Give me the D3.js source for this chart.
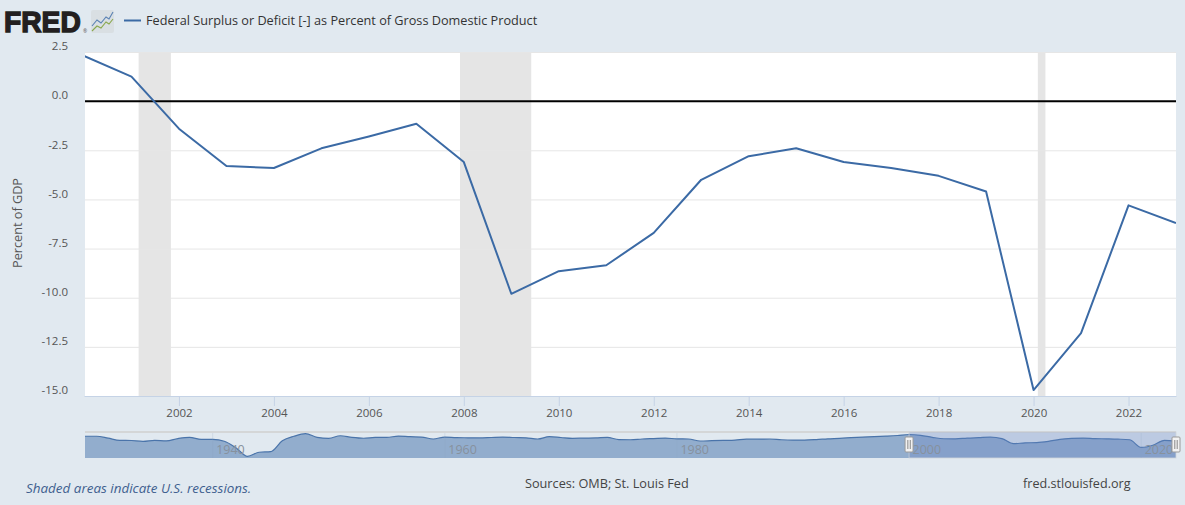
<!DOCTYPE html>
<html>
<head>
<meta charset="utf-8">
<script src="https://d3js.org/d3.v7.min.js"></script>
<style>
  html, body { margin: 0; padding: 0; background: #e1e9f0; overflow: hidden; }
  text { font-family: "Open Sans", sans-serif; }
</style>
</head>
<body>
<script>
// values
const years = d3.range(2000, 2024);
const deficit = [2.3, 1.25, -1.4, -3.3, -3.4, -2.4, -1.8, -1.15, -3.1, -9.8, -8.65, -8.35,
  -6.7, -4.0, -2.8, -2.4, -3.1, -3.4, -3.8, -4.6, -14.7, -11.8, -5.3, -6.2];

const recessionStart = [2001.15, 2007.92, 2020.09];
const recessionEnd = [2001.83, 2009.42, 2020.25];

const yTicks = [2.5, 0, -2.5, -5, -7.5, -10, -12.5, -15];
const xTicks = d3.range(2002, 2024, 2);
const navTicks = [1940, 1960, 1980, 2000, 2020];

// navigator history up to 1999, the rest comes from deficit
const navYears = d3.range(1929, 2000);
const navHistory = [0, 0, -2.5, -5.3, -5.6, -6.6, -5.3, -6, -3, -1.4, -4, -4.2, -6.5, -15, -26.4, -21, -20.3, -6,
  0, 3.4, -1.4, -2.7, 0.7, -1.5, -2.6, -1.5, -1.5, 0.3, -0.6, -1, -3.6, -1, -1.8, -2, -2.2, -1.6, -1, -1.6, -2, -3.6,
  -0.5, -1.6, -2.7, -2.4, -2.2, -1.5, -4.4, -4.6, -3.6, -3, -2.4, -3.4, -3.6, -6.2, -5.8, -5.4, -5, -3.8, -3.8, -3.6,
  -4.6, -5, -5, -4.4, -3.4, -2.7, -1.8, -1, -0.4, 0.2, 1];

const titleText = "Federal Surplus or Deficit [-] as Percent of Gross Domestic Product";

const W = 1185, H = 505;
const plot = {left: 85, right: 1176, top: 52, bottom: 396};
const nav = {top: 433, bottom: 458};

const svg = d3.select("body").append("svg")
  .attr("width", W)
  .attr("height", H)
  .style("display", "block");

svg.append("rect").attr("width", W).attr("height", H).attr("fill", "#e1e9f0");

svg.append("clipPath").attr("id", "plotClip")
  .append("rect")
  .attr("x", plot.left).attr("y", plot.top)
  .attr("width", plot.right - plot.left).attr("height", plot.bottom - plot.top);

const x = d3.scaleLinear().domain([2000, 2023]).range([plot.left - 1, plot.right]);
const y = d3.scaleLinear().domain([2.5, -15]).range([plot.top, plot.bottom]);

svg.append("rect")
  .attr("x", plot.left).attr("y", plot.top)
  .attr("width", plot.right - plot.left).attr("height", plot.bottom - plot.top)
  .attr("fill", "#fff");

// recessions
svg.selectAll(".rec")
  .data(recessionStart)
  .enter()
  .append("rect")
  .attr("class", "rec")
  .attr("x", d => x(d))
  .attr("y", plot.top)
  .attr("width", (d, i) => x(recessionEnd[i]) - x(d))
  .attr("height", plot.bottom - plot.top)
  .attr("fill", "#e5e5e5");

// y axis with the grid
const yAxis = svg.append("g")
  .attr("transform", `translate(${plot.left},0)`)
  .call(d3.axisLeft(y).tickValues(yTicks).tickFormat(d3.format(".1f")).tickSize(0).tickPadding(17));
yAxis.select(".domain").remove();
yAxis.selectAll("text")
  .attr("dy", "-2.2px")
  .attr("font-size", "11.5px")
  .attr("fill", "#555")
  .style("font-family", "'Open Sans', sans-serif")
  .text(d => d3.format(".1f")(d).replace("\u2212", "-"));
yAxis.selectAll(".tick").append("line")
  .attr("x2", plot.right - plot.left)
  .attr("stroke", "#e6e6e6");

// x axis
const xAxis = svg.append("g")
  .attr("transform", `translate(0,${plot.bottom})`)
  .call(d3.axisBottom(x).tickValues(xTicks).tickFormat(d3.format("d")).tickSize(10).tickSizeOuter(0).tickPadding(3));
xAxis.select(".domain").attr("stroke", "#c5d3e6");
xAxis.selectAll("line").attr("stroke", "#c5d3e6");
xAxis.selectAll("text")
  .attr("font-size", "11.5px")
  .attr("fill", "#555")
  .style("font-family", "'Open Sans', sans-serif");

// zero line
svg.append("line")
  .attr("x1", plot.left).attr("x2", plot.right)
  .attr("y1", y(0)).attr("y2", y(0))
  .attr("stroke", "#000")
  .attr("stroke-width", 2);

// series
const line = d3.line()
  .x((d, i) => x(years[i]))
  .y(d => y(d));

svg.append("path")
  .attr("d", line(deficit))
  .attr("clip-path", "url(#plotClip)")
  .attr("fill", "none")
  .attr("stroke", "#3b6aa5")
  .attr("stroke-width", 2)
  .attr("stroke-linejoin", "round");

svg.append("text")
  .attr("transform", `translate(21.5,223) rotate(-90)`)
  .attr("text-anchor", "middle")
  .attr("font-size", "12.7px")
  .attr("fill", "#555")
  .text("Percent of GDP");

// navigator
const navX = d3.scaleLinear().domain([1929, 2023]).range([plot.left, plot.right]);
const navY = d3.scaleLinear().domain([4.3, -28.6]).range([nav.top, nav.bottom]);
const navAllYears = navYears.concat(years);
const navAll = navHistory.concat(deficit);

const navArea = d3.area()
  .x((d, i) => navX(navAllYears[i]))
  .y0(nav.bottom)
  .y1(d => navY(d))
  .curve(d3.curveMonotoneX);
const navLine = d3.line()
  .x((d, i) => navX(navAllYears[i]))
  .y(d => navY(d))
  .curve(d3.curveMonotoneX);

svg.append("line")
  .attr("x1", plot.left).attr("x2", plot.right)
  .attr("y1", nav.top - 1).attr("y2", nav.top - 1)
  .attr("stroke", "#cfcfcf")
  .attr("stroke-width", 1.5);

svg.append("path")
  .attr("d", navArea(navAll))
  .attr("fill", "#92adcd");

svg.append("path")
  .attr("d", navLine(navAll))
  .attr("fill", "none")
  .attr("stroke", "#4a74aa")
  .attr("stroke-width", 1.2);

// selected window
svg.append("rect")
  .attr("x", navX(2000))
  .attr("y", nav.top - 1)
  .attr("width", navX(2023) - navX(2000))
  .attr("height", nav.bottom - nav.top + 1)
  .attr("fill", "rgba(102,133,194,0.3)")
  .attr("stroke", "#cfd4da")
  .attr("stroke-width", 0.8);

const navTick = svg.selectAll(".navTick")
  .data(navTicks)
  .enter()
  .append("g")
  .attr("class", "navTick");
navTick.append("line")
  .attr("x1", d => navX(d)).attr("x2", d => navX(d))
  .attr("y1", nav.top).attr("y2", nav.bottom)
  .attr("stroke", "#8aa4c4")
  .attr("stroke-opacity", 0.2)
  .attr("stroke-width", 1);
navTick.append("text")
  .attr("x", d => navX(d) + 3.5)
  .attr("y", 454)
  .attr("font-size", "12.5px")
  .attr("fill", "#87919d")
  .text(d => d);

const handle = svg.selectAll(".handle")
  .data([2000, 2023])
  .enter()
  .append("g")
  .attr("class", "handle")
  .attr("transform", d => `translate(${navX(d)},437)`);
handle.append("rect")
  .attr("x", -4).attr("y", 0)
  .attr("width", 8).attr("height", 15)
  .attr("rx", 1)
  .attr("fill", "#f2f2f2")
  .attr("stroke", "#999");
handle.selectAll(".grip")
  .data([-1.2, 1.2])
  .enter()
  .append("line")
  .attr("x1", d => d).attr("x2", d => d)
  .attr("y1", 3).attr("y2", 12)
  .attr("stroke", "#888");

// logo, squeezed sideways to fit the 77px wordmark
svg.append("text")
  .attr("transform", "translate(4,31.5) scale(0.94,1)")
  .attr("font-size", "30px")
  .attr("font-weight", 700)
  .attr("fill", "#231f20")
  .attr("stroke", "#231f20")
  .attr("stroke-width", 1.4)
  .style("font-family", "'Liberation Sans', sans-serif")
  .text("FRED");
svg.append("text")
  .attr("x", 83)
  .attr("y", 33)
  .attr("font-size", "5px")
  .attr("fill", "#555")
  .text("\u00ae");

const icon = svg.append("g").attr("transform", "translate(91,10)");
icon.append("rect")
  .attr("width", 23).attr("height", 23).attr("rx", 2)
  .attr("fill", "#d9dfe3");
const iconLine = d3.line();
icon.append("path")
  .attr("d", iconLine([[1, 16], [6, 10], [10, 13], [15, 7], [18, 9], [22, 2]]))
  .attr("fill", "none").attr("stroke", "#5a82b4").attr("stroke-width", 1.1);
icon.append("path")
  .attr("d", iconLine([[1, 21], [6, 16], [10, 18], [15, 12], [18, 14], [22, 9]]))
  .attr("fill", "none").attr("stroke", "#8aa84e").attr("stroke-width", 1.1);

// legend
svg.append("line")
  .attr("x1", 124).attr("x2", 141)
  .attr("y1", 20.5).attr("y2", 20.5)
  .attr("stroke", "#3b6aa5")
  .attr("stroke-width", 2);
svg.append("text")
  .attr("x", 146)
  .attr("y", 25)
  .attr("font-size", "12.7px")
  .attr("fill", "#333")
  .text(titleText);

// footer
svg.append("text")
  .attr("x", 26).attr("y", 493)
  .attr("font-size", "13.45px")
  .attr("font-style", "italic")
  .attr("fill", "#3f5f8f")
  .text("Shaded areas indicate U.S. recessions.");
svg.append("text")
  .attr("x", 525).attr("y", 488)
  .attr("font-size", "12.7px")
  .attr("fill", "#444")
  .text("Sources: OMB; St. Louis Fed");
svg.append("text")
  .attr("x", 1023).attr("y", 488)
  .attr("font-size", "12.6px")
  .attr("fill", "#444")
  .text("fred.stlouisfed.org");
</script>
</body>
</html>
